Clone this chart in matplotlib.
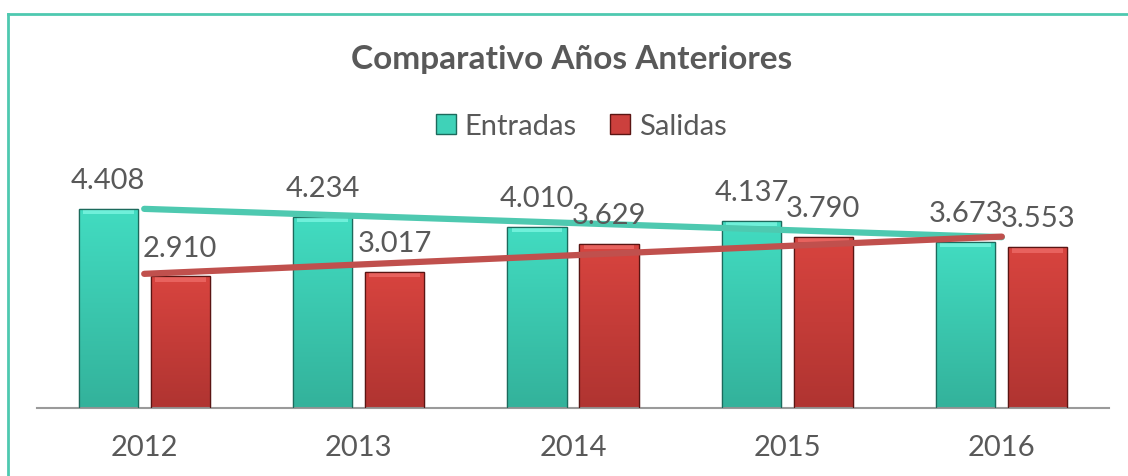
import numpy as np
import matplotlib.pyplot as plt
from matplotlib.lines import Line2D
from matplotlib.colors import LinearSegmentedColormap

plt.rcParams['font.family'] = ['Lato', 'DejaVu Sans']

anios = ['2012', '2013', '2014', '2015', '2016']
entradas = [4.408, 4.234, 4.010, 4.137, 3.673]
salidas = [2.910, 3.017, 3.629, 3.790, 3.553]
etq_entradas = ['4.408', '4.234', '4.010', '4.137', '3.673']
etq_salidas = ['2.910', '3.017', '3.629', '3.790', '3.553']

c_ent = '#3fd2b8'
c_sal = '#cc403d'
c_ent_line = '#4ec9b0'
c_sal_line = '#c0504d'
gris = '#595959'

fig = plt.figure(figsize=(11.28, 4.77), dpi=100)
ax = fig.add_axes([37 / 1128, 1 - 409 / 477, 1072 / 1128, 249 / 477])

x = np.arange(len(anios))
off = 0.168
w = 0.276

b1 = ax.bar(x - off, entradas, w, color=c_ent, edgecolor='#1c6a5c', linewidth=0.9, zorder=2)
b2 = ax.bar(x + off, salidas, w, color=c_sal, edgecolor='#5a1513', linewidth=0.9, zorder=2)

# soft vertical gradient + light bevel on top of each bar
grad = np.linspace(1, 0, 100).reshape(-1, 1)
for bars, c_top, c_bot, hl in ((b1, '#42dcc1', '#33b29b', '#6ff0da'),
                               (b2, '#d8443f', '#b03431', '#e8625e')):
    cmap = LinearSegmentedColormap.from_list('g', [c_bot, c_top])
    for b in bars:
        x0 = b.get_x()
        x1 = x0 + b.get_width()
        h = b.get_height()
        im = ax.imshow(grad, extent=[x0, x1, 0, h], aspect='auto', cmap=cmap,
                       vmin=0, vmax=1, origin='upper', zorder=2.5)
        im.set_clip_path(b)
        ax.bar(x0 + b.get_width() / 2, 0.1, b.get_width() * 0.86, bottom=h - 0.12,
               color=hl, linewidth=0, zorder=3)
    for b in bars:
        ax.bar(b.get_x() + b.get_width() / 2, b.get_height(), b.get_width(),
               fill=False, edgecolor=b.get_edgecolor(), linewidth=0.9, zorder=3.5)

# trend lines (linear fit of each series)
for vals, col in ((entradas, c_ent_line), (salidas, c_sal_line)):
    p = np.polyfit(x, vals, 1)
    ax.plot([x[0], x[-1]], np.polyval(p, [x[0], x[-1]]), color=col, lw=4.5,
            solid_capstyle='round', zorder=4)

for i in range(len(anios)):
    ax.text(x[i] - off, entradas[i] + 0.64, etq_entradas[i], ha='center', va='center',
            fontsize=21, color=gris, zorder=5)
    ax.text(x[i] + off, salidas[i] + 0.64, etq_salidas[i], ha='center', va='center',
            fontsize=21, color=gris, zorder=5)

ax.set_xlim(-0.5, 4.5)
ax.set_ylim(0, 249 / 45.2)
ax.set_xticks(x)
ax.set_xticklabels(anios, fontsize=21, color=gris)
ax.tick_params(axis='x', length=0, pad=19)
ax.set_yticks([])
for s in ['top', 'right', 'left']:
    ax.spines[s].set_visible(False)
ax.spines['bottom'].set_color('#9a9a9a')
ax.spines['bottom'].set_linewidth(1.5)

fig.text(572 / 1128, 1 - 60 / 477, 'Comparativo Años Anteriores', ha='center', va='center',
         fontsize=24, fontweight='bold', color=gris)

handles = [Line2D([], [], marker='s', ls='', markersize=14, markerfacecolor=c_ent, markeredgecolor='#1c6a5c'),
           Line2D([], [], marker='s', ls='', markersize=14, markerfacecolor=c_sal, markeredgecolor='#5a1513')]
fig.legend(handles, ['Entradas', 'Salidas'], loc='center', bbox_to_anchor=(579 / 1128, 1 - 127 / 477),
           ncol=2, frameon=False, fontsize=21, labelcolor=gris, handletextpad=0.15,
           columnspacing=1.0, handlelength=1.0)

# chart frame (left and top edges)
fig.add_artist(Line2D([7.5 / 1128, 7.5 / 1128], [0, 1 - 15 / 477], color='#4ec9b0', lw=2))
fig.add_artist(Line2D([7.5 / 1128, 1], [1 - 15 / 477, 1 - 15 / 477], color='#4ec9b0', lw=2))

fig.savefig('out.png', dpi=100)
